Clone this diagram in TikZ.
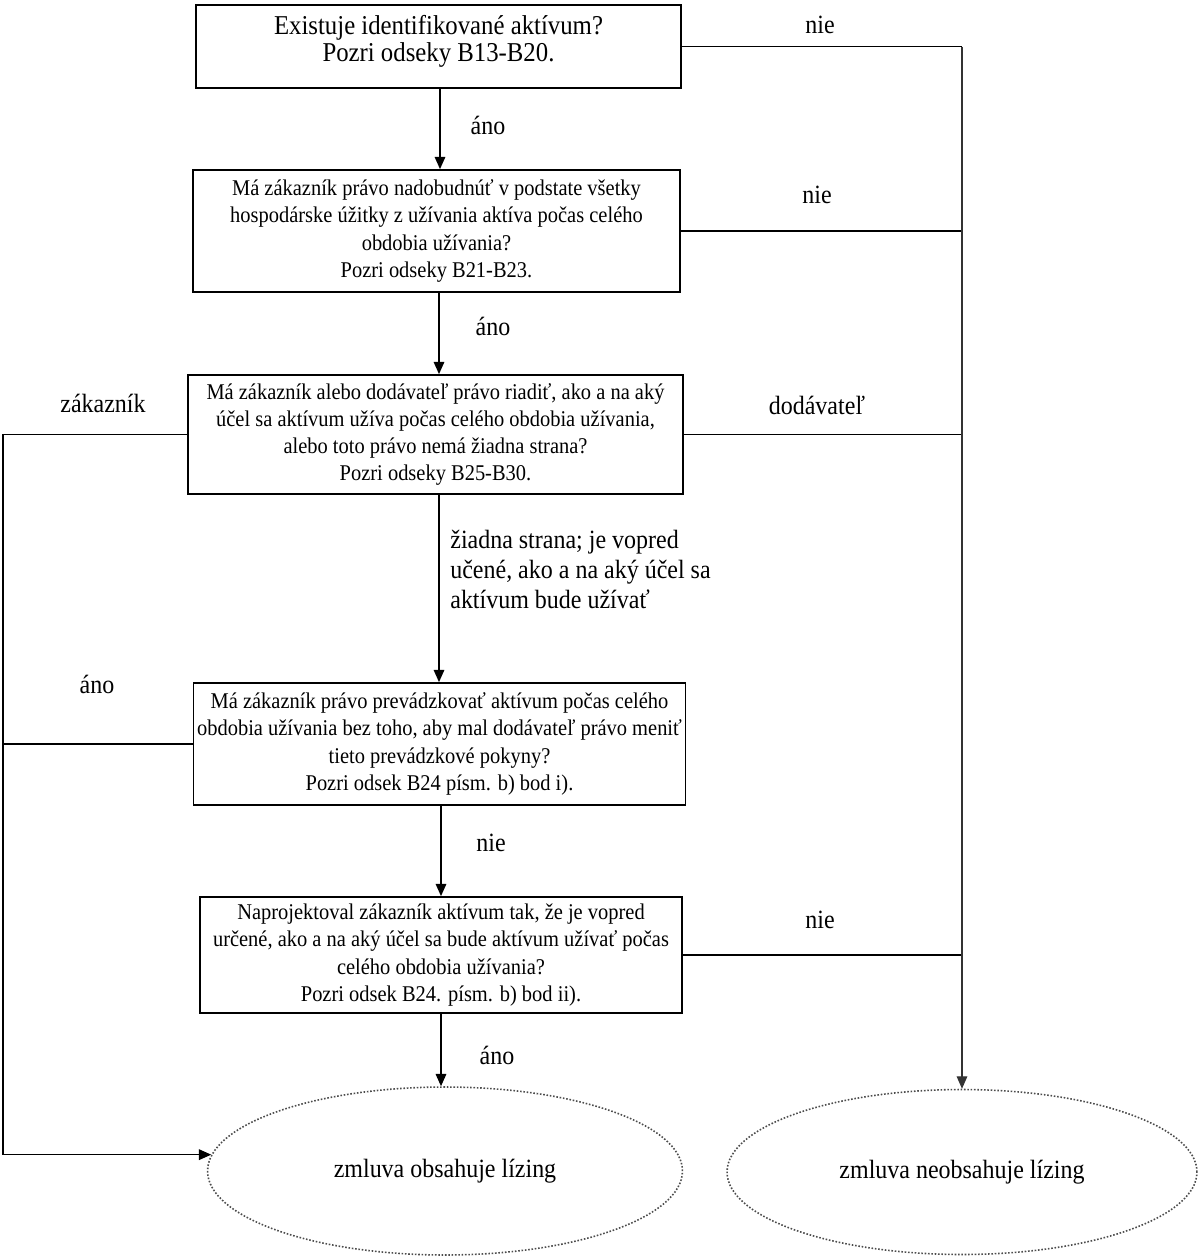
\documentclass[tikz,border=0pt]{standalone}
\usepackage{fontspec}
\setmainfont[FakeStretch=0.91]{Liberation Serif}
\usetikzlibrary{arrows.meta,shapes.geometric}

\begin{document}
\begin{tikzpicture}[
  x=0.02cm, y=-0.02cm,
  font=\fontsize{12.8}{15.5}\selectfont,
  >={Triangle[length=7pt,width=6pt]},
  box/.style={draw, line width=1pt, minimum width=9.74cm, minimum height=2.44cm, align=center, inner sep=2pt},
  result/.style={draw=black!70, densely dotted, line width=0.9pt, ellipse, minimum width=9.5cm, minimum height=3.36cm, inner sep=0pt, font=\fontsize{15}{17}\selectfont},
  flow/.style={line width=0.9pt},
  side/.style={line width=0.6pt, black!80},
  note/.style={inner sep=0pt, font=\fontsize{15}{17}\selectfont}
]

\useasboundingbox (0,0) rectangle (1199,1259);

% otazky
\node[box, minimum width=9.7cm, minimum height=1.66cm, font=\fontsize{15.5}{15.5}\selectfont] (q1) at (438.5,46.5) {Existuje identifikované aktívum?\\Pozri odseky B13-B20.\\[-6pt]};
\node[box] (q2) at (436.5,231) {Má zákazník právo nadobudnúť v podstate všetky\\hospodárske úžitky z užívania aktíva počas celého\\obdobia užívania?\\Pozri odseky B21-B23.};
\node[box, minimum width=9.9cm, minimum height=2.38cm] (q3) at (435.5,434.5) {Má zákazník alebo dodávateľ právo riadiť, ako a na aký\\účel sa aktívum užíva počas celého obdobia užívania,\\alebo toto právo nemá žiadna strana?\\Pozri odseky B25-B30.};
\node[box] (q4) at (439.5,744) {Má zákazník právo prevádzkovať aktívum počas celého\\obdobia užívania bez toho, aby mal dodávateľ právo meniť\\tieto prevádzkové pokyny?\\Pozri odsek B24 písm. b) bod i).};
\node[box, minimum width=9.64cm, minimum height=2.32cm] (q5) at (441,955) {Naprojektoval zákazník aktívum tak, že je vopred\\určené, ako a na aký účel sa bude aktívum užívať počas\\celého obdobia užívania?\\Pozri odsek B24. písm. b) bod ii).};

% vysledky
\node[result] (r1) at (445,1171) {zmluva obsahuje lízing};
\node[result, minimum width=9.4cm, minimum height=3.3cm] (r2) at (962,1172) {zmluva neobsahuje lízing};

\coordinate (lx) at (3,0);

% hlavny tok
\draw[flow, ->] (q1.south -| 440,0) -- (q2.north -| 440,0);
\draw[flow, ->] (q2.south -| 439,0) -- (q3.north -| 439,0);
\draw[flow, ->] (q3.south -| 439,0) -- (q4.north -| 439,0);
\draw[flow, ->] (q4.south -| 441,0) -- (q5.north -| 441,0);
\draw[flow, ->] (q5.south -| 441,0) -- (r1.north -| 441,0);

% vpravo: nie / dodavatel
\draw[flow] (q1.east) -- (q1.east -| r2.north);
\draw[flow] (q2.east) -- (q2.east -| r2.north);
\draw[flow] (q3.east) -- (q3.east -| r2.north);
\draw[flow] (q5.east) -- (q5.east -| r2.north);
\draw[side, ->] (q1.east -| r2.north) -- (r2.north);

% vlavo: zakaznik / ano
\draw[flow, ->] (q3.west) -- (q3.west -| lx) |- (r1.176);
\draw[flow] (q4.west) -- (q4.west -| lx);

% popisy
\node[note] (n1) at (820,25) {nie};
\node[note] (n2) at (817,195) {nie};
\node[note] (n3) at (817,405) {dodávateľ};
\node[note] (n4) at (820,920) {nie};
\node[note] (a1) at (488,125) {áno};
\node[note] (a2) at (493,326) {áno};
\node[note, anchor=north west, align=left] (a3) at (450,530) {žiadna strana; je vopred\\učené, ako a na aký účel sa\\aktívum bude užívať};
\node[note] (a4) at (491,843) {nie};
\node[note] (a5) at (497,1055) {áno};
\node[note] (z1) at (103,403) {zákazník};
\node[note] (z2) at (97,684) {áno};

\end{tikzpicture}
\end{document}
